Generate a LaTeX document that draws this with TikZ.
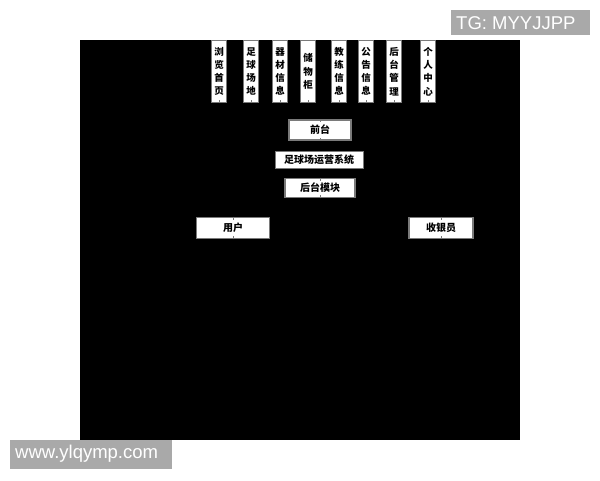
\documentclass[tikz,border=0pt]{standalone}
\usepackage{fontspec}
\setmainfont{Liberation Sans}
\newfontfamily\cjk{Noto Sans CJK SC}
\definecolor{wmgray}{HTML}{A9A9A9}
\definecolor{edgegray}{HTML}{7A7A7A}
\tikzset{
  vbox/.style={draw=edgegray, line width=1.6pt, fill=white, minimum width=15pt,
    minimum height=62pt, inner sep=0pt, align=center,
    font=\cjk\bfseries\fontsize{9.5}{13.2}\selectfont},
  hbox/.style={draw=edgegray, line width=1.6pt, fill=white, inner sep=0pt,
    font=\cjk\bfseries\fontsize{10}{12}\selectfont},
  tick/.style={draw=edgegray, line width=0.8pt},
  wm/.style={fill=wmgray, inner sep=0pt},
  wmtext/.style={text=white, inner sep=0pt, anchor=west}
}
\begin{document}
\begin{tikzpicture}[x=1pt,y=-1pt]
\useasboundingbox (0,0) rectangle (600,480);
\fill[white] (0,0) rectangle (600,480);
\fill[black] (80,40) rectangle (520,440);
% top vertical boxes
\node[vbox] (v1) at (219,71.5) {浏\\览\\首\\页};
\node[vbox] (v2) at (251,71.5) {足\\球\\场\\地};
\node[vbox] (v3) at (280,71.5) {器\\材\\信\\息};
\node[vbox] (v4) at (308,71.5) {储\\物\\柜};
\node[vbox] (v5) at (339,71.5) {教\\练\\信\\息};
\node[vbox] (v6) at (366,71.5) {公\\告\\信\\息};
\node[vbox] (v7) at (394,71.5) {后\\台\\管\\理};
\node[vbox] (v8) at (428,71.5) {个\\人\\中\\心};
% middle boxes
\node[hbox, minimum width=62pt, minimum height=20pt] (ft) at (320,130) {前台};
\node[hbox, line width=0.8pt, minimum width=88pt, minimum height=17pt] (sys) at (319,159.5) {足球场运营系统};
\node[hbox, minimum width=70pt, minimum height=19pt] (bk) at (320,188) {后台模块};
\node[hbox, minimum width=73pt, minimum height=21pt] (user) at (233,228) {用户};
\node[hbox, minimum width=64pt, minimum height=21pt] (cash) at (441,228) {收银员};
% small centre ticks on box edges
\foreach \n in {v1,v2,v3,v4,v5,v6,v7,v8,ft,bk,user,cash}{
  \draw[tick] (\n.south) -- ++(0,-3);
}
\foreach \n in {ft,bk,user,cash}{
  \draw[tick] (\n.north) -- ++(0,3);
}
% watermarks
\node[wm, minimum width=139pt, minimum height=25pt] (tg) at (520.5,22.5) {};
\node[wmtext, font=\fontsize{18.5}{20}\selectfont] (tgt) at (456,23) {TG: MYYJJPP};
\node[wm, minimum width=162pt, minimum height=29pt] (www) at (91,454.5) {};
\node[wmtext, font=\fontsize{18.5}{20}\selectfont] (wwwt) at (15,454) {www.ylqymp.com};
\end{tikzpicture}
\end{document}
